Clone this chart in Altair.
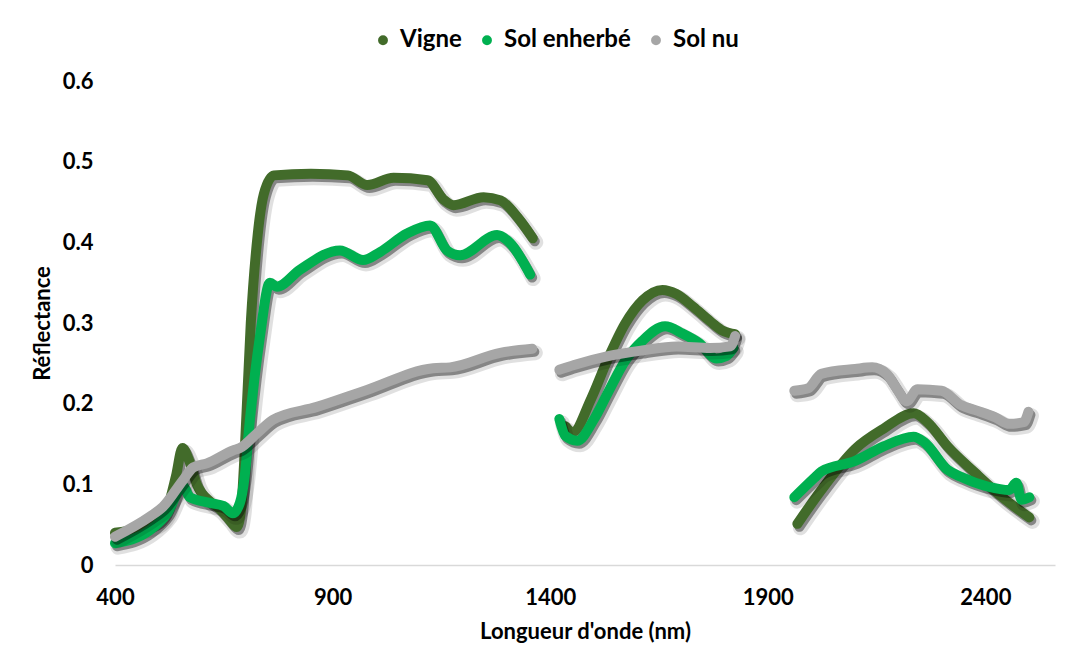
import altair as alt
import pandas as pd

series_names = ["Vigne", "Sol enherbé", "Sol nu"]
series_colors = ["#426B2A", "#00B050", "#A6A6A6"]

x_ticks = [400, 900, 1400, 1900, 2400]
y_ticks = [0, 0.1, 0.2, 0.3, 0.4, 0.5, 0.6]

vigne_nm = [400, 450, 500, 520, 540, 555, 570, 588, 620, 640, 660, 680, 690, 698, 712, 728, 742, 765, 850, 935, 980, 1040, 1118, 1155, 1178, 1247, 1286, 1325, 1360,
            1435, 1452, 1494, 1533, 1572, 1612, 1658, 1690, 1729, 1768, 1798, 1825,
            1968, 2023, 2101, 2166, 2235, 2267, 2313, 2377, 2439, 2501]
vigne_r = [0.040, 0.045, 0.055, 0.070, 0.110, 0.145, 0.130, 0.100, 0.078, 0.070, 0.058, 0.047, 0.070, 0.140, 0.300, 0.410, 0.460, 0.483, 0.485, 0.483, 0.471, 0.480, 0.477, 0.453, 0.446, 0.456, 0.452, 0.431, 0.405,
           0.172, 0.165, 0.206, 0.256, 0.299, 0.328, 0.341, 0.336, 0.320, 0.302, 0.290, 0.286,
           0.051, 0.093, 0.144, 0.169, 0.188, 0.177, 0.147, 0.114, 0.084, 0.059]

enherbe_nm = [400, 480, 520, 556, 572, 618, 650, 671, 687, 698, 710, 733, 756, 772, 825, 917, 970, 1009, 1071, 1124, 1163, 1193, 1278, 1308, 1354,
              1421, 1435, 1462, 1501, 1533, 1572, 1612, 1664, 1704, 1743, 1782, 1805, 1821,
              1961, 2007, 2023, 2101, 2166, 2235, 2260, 2313, 2345, 2407, 2455, 2471, 2483, 2501]
enherbe_r = [0.027, 0.043, 0.064, 0.098, 0.084, 0.077, 0.073, 0.064, 0.077, 0.110, 0.180, 0.283, 0.350, 0.345, 0.366, 0.390, 0.378, 0.388, 0.411, 0.421, 0.390, 0.384, 0.409, 0.399, 0.360,
             0.181, 0.160, 0.154, 0.181, 0.214, 0.253, 0.278, 0.296, 0.287, 0.275, 0.256, 0.259, 0.269,
             0.084, 0.108, 0.116, 0.129, 0.147, 0.159, 0.152, 0.118, 0.109, 0.097, 0.093, 0.102, 0.081, 0.084]

solnu_nm = [400, 480, 510, 556, 580, 611, 671, 687, 726, 763, 864, 979, 1131, 1170, 1285, 1359,
            1421, 1455, 1533, 1612, 1690, 1768, 1814, 1825,
            1961, 1993, 2023, 2101, 2140, 2173, 2196, 2219, 2244, 2299, 2345, 2377, 2423, 2455, 2488, 2499]
solnu_r = [0.035, 0.060, 0.072, 0.105, 0.121, 0.126, 0.142, 0.145, 0.163, 0.180, 0.196, 0.217, 0.244, 0.245, 0.263, 0.268,
           0.242, 0.248, 0.259, 0.266, 0.271, 0.269, 0.271, 0.284,
           0.216, 0.219, 0.237, 0.243, 0.245, 0.237, 0.219, 0.203, 0.218, 0.216, 0.198, 0.192, 0.183, 0.175, 0.177, 0.190]

rows = []
for name, nms, rs in zip(series_names, [vigne_nm, enherbe_nm, solnu_nm], [vigne_r, enherbe_r, solnu_r]):
    for w, r in zip(nms, rs):
        rows.append({"serie": name, "nm": w, "r": r})
df = pd.DataFrame(rows)

FONT = "Lato"

base = alt.Chart(df).transform_calculate(
    seg="datum.nm < 1400 ? 1 : (datum.nm < 1900 ? 2 : 3)"
)

x_enc = alt.X(
    "nm:Q",
    scale=alt.Scale(domain=[400, 2560], nice=False, zero=False),
    axis=alt.Axis(
        values=x_ticks, format="d", title="Longueur d'onde (nm)", grid=False, ticks=False,
        domain=True, domainColor="#D9D9D9", domainWidth=1.5, labelFlush=False,
        labelFont=FONT, labelFontWeight="bold", labelFontSize=22, labelColor="#000000",
        labelPadding=22,
        titleFont=FONT, titleFontWeight="bold", titleFontSize=22, titleColor="#000000",
        titlePadding=13,
    ),
)
y_enc = alt.Y(
    "r:Q",
    scale=alt.Scale(domain=[0, 0.6], nice=False),
    axis=alt.Axis(
        values=y_ticks, format=".1~f", title="Réflectance", grid=False, ticks=False, domain=False,
        labelFlush=False,
        labelFont=FONT, labelFontWeight="bold", labelFontSize=22, labelColor="#000000",
        labelPadding=22,
        titleFont=FONT, titleFontWeight="bold", titleFontSize=22, titleColor="#000000",
        titlePadding=8,
    ),
)

color_enc = alt.Color(
    "serie:N",
    scale=alt.Scale(domain=series_names, range=series_colors),
    sort=series_names,
    legend=alt.Legend(
        title=None, orient="none", direction="horizontal", legendX=256, legendY=-53,
        symbolType="circle", symbolSize=24, symbolStrokeWidth=5,
        labelFont=FONT, labelFontWeight="bold", labelFontSize=24, labelColor="#000000",
        labelOffset=5, columnPadding=12, padding=0,
    ),
)

layers = []
for i, name in enumerate(series_names):
    sub = base.transform_filter(alt.datum.serie == name)
    soft = sub.mark_line(
        color="black", opacity=0.12, strokeWidth=15, xOffset=3, yOffset=4,
        interpolate="monotone", strokeCap="round", strokeJoin="round",
    ).encode(x=x_enc, y=y_enc, detail="seg:N")
    shadow = sub.mark_line(
        color="black", opacity=0.4, strokeWidth=10, xOffset=2, yOffset=3,
        interpolate="monotone", strokeCap="round", strokeJoin="round",
    ).encode(x=x_enc, y=y_enc, detail="seg:N")
    line = sub.mark_line(
        strokeWidth=10, interpolate="monotone", strokeCap="round", strokeJoin="round",
    ).encode(x=x_enc, y=y_enc, color=color_enc, detail="seg:N")
    layers += [soft, shadow, line]

chart = alt.layer(*layers).properties(
    width=940, height=484,
    autosize=alt.AutoSizeParams(type="none"),
    padding={"left": 107, "top": 73, "right": 20, "bottom": 85},
    background="white",
).configure_view(stroke=None)

chart.save("out.html", embed_options={"renderer": "svg", "actions": False})
